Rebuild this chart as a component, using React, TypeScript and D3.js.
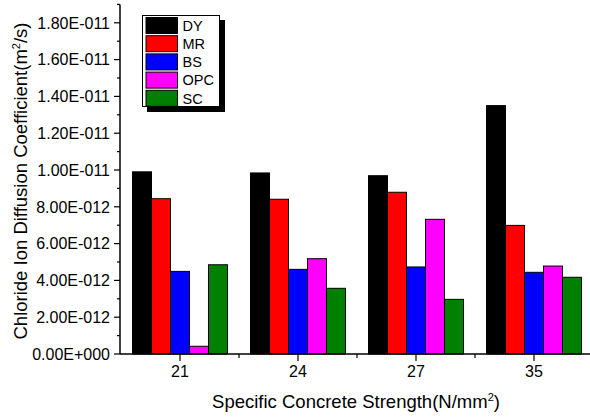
import React from "react";
import * as d3 from "d3";

const categories = ["21", "24", "27", "35"];
const seriesNames = ["DY", "MR", "BS", "OPC", "SC"];
const seriesColors = ["#000000", "#ff0000", "#0000ff", "#ff00ff", "#008000"];
const DY = [9.9e-12, 9.84e-12, 9.69e-12, 13.5e-12];
const MR = [8.44e-12, 8.41e-12, 8.79e-12, 6.99e-12];
const BS = [4.49e-12, 4.6e-12, 4.73e-12, 4.44e-12];
const OPC = [0.42e-12, 5.18e-12, 7.32e-12, 4.78e-12];
const SC = [4.85e-12, 3.57e-12, 2.97e-12, 4.17e-12];
const seriesValues = [DY, MR, BS, OPC, SC];
const yMajorTicks = d3.range(0, 19).filter((i) => i % 2 === 0).map((i) => i * 1e-12);
const yMinorTicks = d3.range(1, 20, 2).map((i) => i * 1e-12);

const FONT = "'Liberation Sans', Arial, sans-serif";

function sci(v: number): string {
  const [m, e] = v.toExponential(2).split("e");
  const n = parseInt(e, 10);
  const sign = n < 0 ? "-" : "+";
  return `${m}E${sign}${String(Math.abs(n)).padStart(3, "0")}`;
}

export default function App() {
  const W = 590;
  const H = 417;
  const left = 120;
  const bottom = 354;
  const x = d3.scaleBand<string>().domain(categories).range([121, 593]);
  const bw = x.bandwidth();
  const inner = d3.scaleBand<string>().domain(seriesNames).range([11.5, bw - 11.5]);
  const y = d3.scaleLinear().domain([0, 1.9e-11]).range([bottom, 4.4]);

  return (
    <svg
      width={W}
      height={H}
      style={{ position: "absolute", left: 0, top: 0, background: "#fff" }}
      fontFamily={FONT}
    >
      <rect width={W} height={H} fill="#fff" />
      {/* bars */}
      {categories.map((c, ci) => (
        <g key={c} transform={`translate(${x(c)},0)`}>
          {seriesNames.map((s, si) => {
            const v = seriesValues[si][ci];
            return (
              <rect
                key={s}
                x={inner(s)}
                y={y(v)}
                width={inner.bandwidth()}
                height={bottom - y(v)}
                fill={seriesColors[si]}
                stroke="#000"
                strokeWidth={1}
              />
            );
          })}
        </g>
      ))}

      {/* y axis */}
      <line x1={left} x2={left} y1={y(1.9e-11)} y2={bottom} stroke="#000" strokeWidth={1.5} />
      {yMajorTicks.map((t) => (
        <g key={t}>
          <line x1={left - 6} x2={left} y1={y(t)} y2={y(t)} stroke="#000" strokeWidth={1.2} />
          <text x={110} y={y(t)} dy="0.36em" textAnchor="end" fontSize={16} fill="#000">
            {sci(t)}
          </text>
        </g>
      ))}
      {yMinorTicks.map((t) => (
        <line key={t} x1={left - 3} x2={left} y1={y(t)} y2={y(t)} stroke="#000" strokeWidth={1.2} />
      ))}

      {/* x axis */}
      <line x1={left} x2={W} y1={bottom} y2={bottom} stroke="#000" strokeWidth={1.5} />
      {categories.map((c) => (
        <g key={c}>
          <line
            x1={x(c)! + bw / 2}
            x2={x(c)! + bw / 2}
            y1={bottom}
            y2={bottom + 7}
            stroke="#000"
            strokeWidth={1.2}
          />
          <text x={x(c)! + bw / 2} y={371} dy="0.36em" textAnchor="middle" fontSize={16} fill="#000">
            {c}
          </text>
        </g>
      ))}
      {categories.slice(1).map((c) => (
        <line key={c} x1={x(c)!} x2={x(c)!} y1={bottom} y2={bottom + 4} stroke="#000" strokeWidth={1.2} />
      ))}

      {/* axis titles */}
      <text x={356} y={408} textAnchor="middle" fontSize={18.5} fill="#000">
        Specific Concrete Strength(N/mm
        <tspan dy={-7} fontSize={11}>2</tspan>
        <tspan dy={7}>)</tspan>
      </text>
      <text
        transform="translate(27,181) rotate(-90)"
        textAnchor="middle"
        fontSize={18.5}
        fill="#000"
      >
        Chloride Ion Diffusion Coefficient(m
        <tspan dy={-7} fontSize={11}>2</tspan>
        <tspan dy={7}>/s)</tspan>
      </text>

      {/* legend */}
      <g>
        <rect x={147} y={20} width={78} height={92} fill="#000" />
        <rect x={142.5} y={15.5} width={77} height={91} fill="#fff" stroke="#000" strokeWidth={1} />
        {seriesNames.map((s, i) => (
          <g key={s} transform={`translate(146,${17.5 + i * 18.2})`}>
            <rect x={0} y={0} width={31.5} height={16} fill={seriesColors[i]} stroke="#000" strokeWidth={1} />
            <text x={36.5} y={8} dy="0.36em" fontSize={14.5} fill="#000">
              {s}
            </text>
          </g>
        ))}
      </g>
    </svg>
  );
}
